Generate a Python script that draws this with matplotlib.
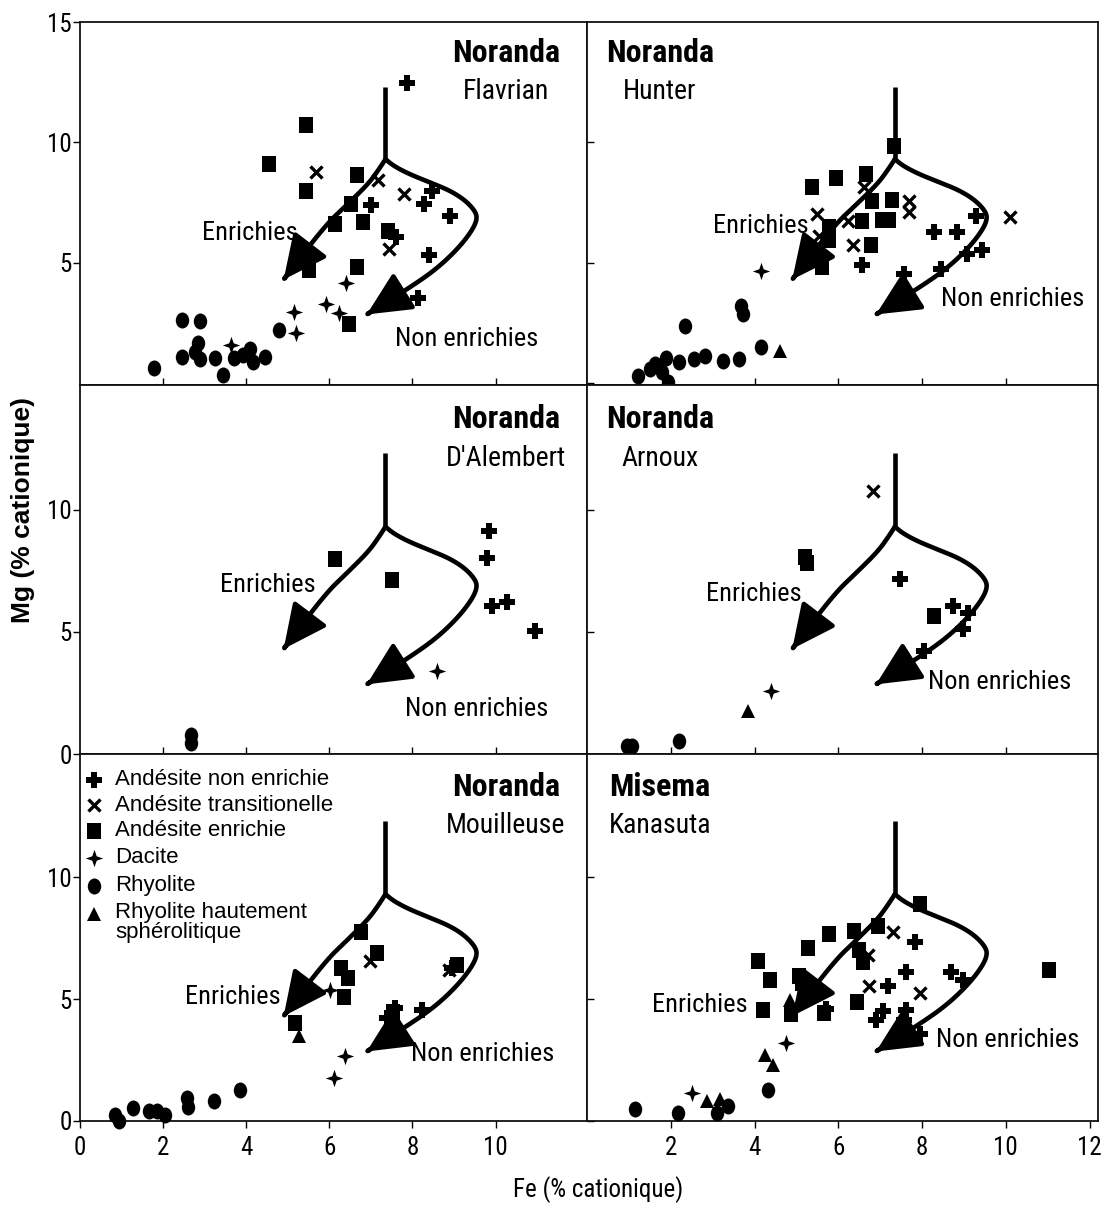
import matplotlib
matplotlib.use('Agg')
import matplotlib.pyplot as plt
from matplotlib import font_manager
from matplotlib.path import Path
from matplotlib.patches import FancyArrowPatch
import numpy as np


def pick(*names):
    for n in names:
        try:
            font_manager.findfont(font_manager.FontProperties(family=n), fallback_to_default=False)
            return n
        except Exception:
            pass
    return 'DejaVu Sans'


NARROW = pick('Liberation Sans Narrow', 'Roboto Condensed', 'Liberation Sans')
SANS = pick('Liberation Sans', 'Arial', 'DejaVu Sans')

# ---------------- data (Fe, Mg) in % cationique ----------------
flavrian_plus = [(7.87, 12.45), (7.0, 7.4), (8.47, 7.98), (8.27, 7.45), (8.9, 6.95), (7.6, 6.05), (8.4, 5.3), (8.14, 3.55)]
flavrian_x = [(5.68, 8.75), (7.17, 8.42), (7.8, 7.86), (7.43, 5.55)]
flavrian_sq = [(5.43, 10.72), (4.55, 9.1), (5.43, 7.98), (6.66, 8.63), (6.53, 7.42), (6.13, 6.6), (6.8, 6.7),
               (7.4, 6.33), (5.52, 4.7), (6.66, 4.84), (6.47, 2.44)]
flavrian_dac = [(6.41, 4.15), (5.16, 2.95), (5.93, 3.27), (6.23, 2.9), (5.2, 2.08), (3.64, 1.58)]
flavrian_rhy = [(1.78, 0.62), (2.45, 2.62), (2.89, 2.56), (2.83, 1.65), (2.76, 1.3), (2.46, 1.1), (2.89, 0.98),
                (3.25, 1.03), (3.44, 0.34), (3.7, 1.03), (3.92, 1.17), (4.08, 1.4), (4.16, 0.86), (4.44, 1.1),
                (4.8, 2.22)]
flavrian_tri = []

hunter_plus = [(9.28, 6.96), (8.28, 6.27), (8.84, 6.27), (9.08, 5.37), (9.44, 5.51), (8.44, 4.75), (7.57, 4.55),
               (6.57, 4.89)]
hunter_x = [(6.61, 8.13), (5.5, 7.03), (5.54, 6.13), (6.22, 6.75), (6.34, 5.72), (7.69, 7.58), (7.69, 7.1),
            (10.11, 6.89)]
hunter_sq = [(7.33, 9.85), (5.38, 8.13), (5.94, 8.54), (6.65, 8.68), (6.8, 7.58), (7.29, 7.61), (7.05, 6.78),
             (7.2, 6.78), (6.57, 6.75), (5.78, 6.48), (5.78, 5.93), (6.77, 5.72), (5.62, 4.82)]
hunter_dac = [(4.16, 4.65)]
hunter_rhy = [(3.68, 3.2), (3.72, 2.85), (2.35, 2.38), (4.16, 1.48), (3.64, 1.0), (3.25, 0.93), (2.81, 1.13),
              (2.55, 1.0), (2.19, 0.86), (1.88, 1.06), (1.62, 0.79), (1.5, 0.58), (1.22, 0.3), (1.94, 0.03),
              (1.78, 0.44)]
hunter_tri = [(4.6, 1.34)]

dalembert_plus = [(9.84, 9.13), (9.8, 8.03), (9.91, 6.04), (10.27, 6.22), (10.96, 5.03)]
dalembert_x = []
dalembert_sq = [(6.13, 7.96), (7.51, 7.13)]
dalembert_dac = [(8.58, 3.39)]
dalembert_rhy = [(2.67, 0.78), (2.67, 0.45)]
dalembert_tri = []

arnoux_plus = [(7.47, 7.15), (8.73, 6.06), (9.1, 5.79), (8.98, 5.11), (8.05, 4.22)]
arnoux_x = [(6.82, 10.76)]
arnoux_sq = [(5.21, 8.05), (5.25, 7.8), (8.29, 5.65)]
arnoux_dac = [(4.4, 2.59)]
arnoux_rhy = [(1.07, 0.34), (0.95, 0.34), (2.2, 0.54)]
arnoux_tri = [(3.85, 1.77)]

mouilleuse_plus = [(8.94, 6.26), (7.57, 4.63), (7.39, 4.22), (8.23, 4.56)]
mouilleuse_x = [(6.99, 6.56), (8.89, 6.19)]
mouilleuse_sq = [(6.75, 7.76), (7.14, 6.87), (6.28, 6.26), (6.46, 5.85), (6.35, 5.1), (5.18, 4.01), (9.07, 6.39),
                 (7.52, 4.49)]
mouilleuse_dac = [(6.02, 5.37), (6.37, 2.65), (6.12, 1.77)]
mouilleuse_rhy = [(3.85, 1.29), (3.23, 0.82), (2.57, 0.95), (2.61, 0.57), (2.04, 0.24), (1.86, 0.41), (1.65, 0.41),
                  (1.28, 0.54), (0.84, 0.24), (0.95, 0.0)]
mouilleuse_tri = [(5.27, 3.47)]

kanasuta_plus = [(7.82, 7.33), (7.62, 6.1), (7.18, 5.55), (8.7, 6.1), (8.98, 5.8), (7.06, 4.5), (6.9, 4.16),
                 (7.62, 4.57), (7.58, 4.16), (7.94, 3.55), (5.7, 4.6)]
kanasuta_x = [(7.3, 7.74), (6.7, 6.82), (6.74, 5.53), (7.94, 5.25)]
kanasuta_sq = [(7.94, 8.91), (6.94, 8.01), (6.37, 7.78), (5.78, 7.68), (5.28, 7.09), (4.08, 6.55), (4.37, 5.8),
               (5.06, 5.93), (5.14, 5.66), (6.5, 7.0), (6.58, 6.5), (4.21, 4.57), (4.88, 4.37), (5.65, 4.43),
               (6.45, 4.88), (11.02, 6.18)]
kanasuta_dac = [(4.74, 3.21), (2.5, 1.16)]
kanasuta_rhy = [(1.14, 0.48), (2.17, 0.34), (3.1, 0.34), (3.36, 0.61), (4.32, 1.27)]
kanasuta_tri = [(4.26, 2.69), (4.45, 2.28), (2.86, 0.82), (3.18, 0.89), (4.85, 4.95)]

panel_group = ['Noranda', 'Noranda', 'Noranda', 'Noranda', 'Noranda', 'Misema']
panel_name = ['Flavrian', 'Hunter', "D'Alembert", 'Arnoux', 'Mouilleuse', 'Kanasuta']

legend_labels = ['Andésite non enrichie', 'Andésite transitionelle', 'Andésite enrichie', 'Dacite', 'Rhyolite',
                 'Rhyolite hautement\nsphérolitique']

# trend guide (schematic, same in every panel)
guide_stem = [(7.35, 12.3), (7.35, 9.3)]
guide_enriched = [(7.35, 9.3), (7.2, 8.9), (6.95, 8.3), (6.45, 7.45), (5.9, 6.55), (4.9, 4.3)]
guide_nonenriched = [(7.35, 9.3), (7.55, 9.02), (7.9, 8.7), (8.4, 8.35), (8.9, 8.0), (9.28, 7.58), (9.53, 7.1),
                     (9.55, 6.75), (9.4, 6.25), (9.1, 5.6), (8.65, 4.85), (8.1, 4.15), (6.9, 2.85)]

enr_label_pos = [(4.09, 6.23), (4.16, 6.52), (4.53, 6.9), (3.98, 6.54), (3.67, 5.1), (2.70, 4.77)]
nonenr_label_pos = [(9.3, 1.85), (10.15, 3.48), (9.55, 1.86), (9.85, 2.93), (9.68, 2.74), (10.05, 3.34)]

# ---------------- figure ----------------
W, H = 1114, 1217
fig = plt.figure(figsize=(W / 100, H / 100), dpi=100)

col_x = [(80, 587), (587, 1098)]
row_y = [(22, 385), (385, 754), (754, 1121)]
row_ylim = [(-0.08, 15.0), (0.0, 15.1), (0.0, 15.05)]

star4 = Path.unit_regular_star(4, innerCircle=0.36)
circ = Path.unit_circle()
ellipse = Path(circ.vertices * np.array([0.84, 1.0]), circ.codes)
rect = Path([(-0.44, -0.5), (0.44, -0.5), (0.44, 0.5), (-0.44, 0.5), (-0.44, -0.5)],
            [Path.MOVETO, Path.LINETO, Path.LINETO, Path.LINETO, Path.CLOSEPOLY])

styles = {
    'plus': dict(marker='P', ms=12, mew=0),
    'x': dict(marker='x', ms=8.5, mew=2.4),
    'sq': dict(marker=rect, ms=11.5, mew=0),
    'dac': dict(marker=star4, ms=12.5, mew=0),
    'rhy': dict(marker=ellipse, ms=11.5, mew=0),
    'tri': dict(marker='^', ms=10.5, mew=0),
}
order = ['plus', 'x', 'sq', 'dac', 'rhy', 'tri']

panels_data = [
    dict(plus=flavrian_plus, x=flavrian_x, sq=flavrian_sq, dac=flavrian_dac, rhy=flavrian_rhy, tri=flavrian_tri),
    dict(plus=hunter_plus, x=hunter_x, sq=hunter_sq, dac=hunter_dac, rhy=hunter_rhy, tri=hunter_tri),
    dict(plus=dalembert_plus, x=dalembert_x, sq=dalembert_sq, dac=dalembert_dac, rhy=dalembert_rhy, tri=dalembert_tri),
    dict(plus=arnoux_plus, x=arnoux_x, sq=arnoux_sq, dac=arnoux_dac, rhy=arnoux_rhy, tri=arnoux_tri),
    dict(plus=mouilleuse_plus, x=mouilleuse_x, sq=mouilleuse_sq, dac=mouilleuse_dac, rhy=mouilleuse_rhy,
         tri=mouilleuse_tri),
    dict(plus=kanasuta_plus, x=kanasuta_x, sq=kanasuta_sq, dac=kanasuta_dac, rhy=kanasuta_rhy, tri=kanasuta_tri),
]


def chaikin(pts, iters=3):
    p = np.asarray(pts, float)
    for _ in range(iters):
        q = [p[0]]
        for a, b in zip(p[:-1], p[1:]):
            q.append(0.75 * a + 0.25 * b)
            q.append(0.25 * a + 0.75 * b)
        q.append(p[-1])
        p = np.array(q)
    return p


for i in range(6):
    r, c = divmod(i, 2)
    x0, x1 = col_x[c]
    y0, y1 = row_y[r]
    ax = fig.add_axes([x0 / W, 1 - y1 / H, (x1 - x0) / W, (y1 - y0) / H])
    ax.set_xlim(0, 12.2)
    ax.set_ylim(*row_ylim[r])
    for s in ax.spines.values():
        s.set_linewidth(1.3)
        s.set_color('#111111')

    # guide
    ax.plot(*zip(*guide_stem), color='black', lw=3.3, solid_capstyle='butt', zorder=2)
    for g in (guide_enriched, guide_nonenriched):
        pts = chaikin(g, 3)
        arr = FancyArrowPatch(path=Path(pts), arrowstyle='-|>,head_length=1.0,head_width=0.48',
                              mutation_scale=27, lw=3.3, color='black', joinstyle='round',
                              capstyle='round', transform=ax.transData, zorder=2)
        ax.add_patch(arr)

    d = panels_data[i]
    for k in order:
        pts = d[k]
        if pts:
            xs, ys = zip(*pts)
            ax.plot(xs, ys, ls='none', color='black', mec='black', mfc='black', clip_on=False, zorder=3,
                    **styles[k])

    # titles
    tx = 10.25 if c == 0 else 1.74
    ax.text(tx, 13.7, panel_group[i], ha='center', va='center', fontsize=23, fontweight='bold', family=NARROW)
    ax.text(tx, 12.1, panel_name[i], ha='center', va='center', fontsize=20, family=NARROW)
    ex, ey = enr_label_pos[i]
    ax.text(ex, ey, 'Enrichies', ha='center', va='center', fontsize=19, family=NARROW)
    nx, ny = nonenr_label_pos[i]
    ax.text(nx, ny, 'Non enrichies', ha='center', va='center', fontsize=19, family=NARROW)

    # ticks
    if c == 0:
        yt = [5, 10, 15] if r == 0 else [0, 5, 10]
        ax.set_yticks(yt)
        ax.set_yticklabels([str(v) for v in yt], family=NARROW, fontsize=18)
        ax.tick_params(axis='y', direction='out', length=5, width=1, pad=1)
    else:
        ax.set_yticks([0, 5, 10])
        ax.tick_params(axis='y', direction='in', length=5, width=1, labelleft=False)
    if r < 2:
        ax.set_xticks([2, 4, 6, 8, 10])
        ax.tick_params(axis='x', direction='in', length=5, width=1, labelbottom=False)
    else:
        xt = [0, 2, 4, 6, 8, 10] if c == 0 else [2, 4, 6, 8, 10, 12]
        ax.set_xticks(xt)
        ax.set_xticklabels([str(v) for v in xt], family=NARROW, fontsize=18)
        ax.tick_params(axis='x', direction='out', length=5, width=1, pad=6)

    if i == 4:
        ly = [14.0, 12.95, 11.9, 10.8, 9.65, 8.5]
        for k, lab, yy in zip(order, legend_labels, ly):
            ax.plot([0.33], [yy], ls='none', color='black', mfc='black', mec='black', clip_on=False, zorder=3,
                    **styles[k])
            ax.text(0.84, yy + (0.5 if '\n' in lab else 0), lab, ha='left',
                    va='top' if '\n' in lab else 'center', fontsize=16, family=SANS,
                    linespacing=0.95)

fig.text(23 / W, 1 - 510 / H, 'Mg (% cationique)', rotation=90, ha='center', va='center', fontsize=19,
         fontweight='bold', family=SANS)
fig.text(598 / W, 1 - 1190 / H, 'Fe (% cationique)', ha='center', va='center', fontsize=18, family=NARROW)

fig.savefig('out.png', dpi=100)
